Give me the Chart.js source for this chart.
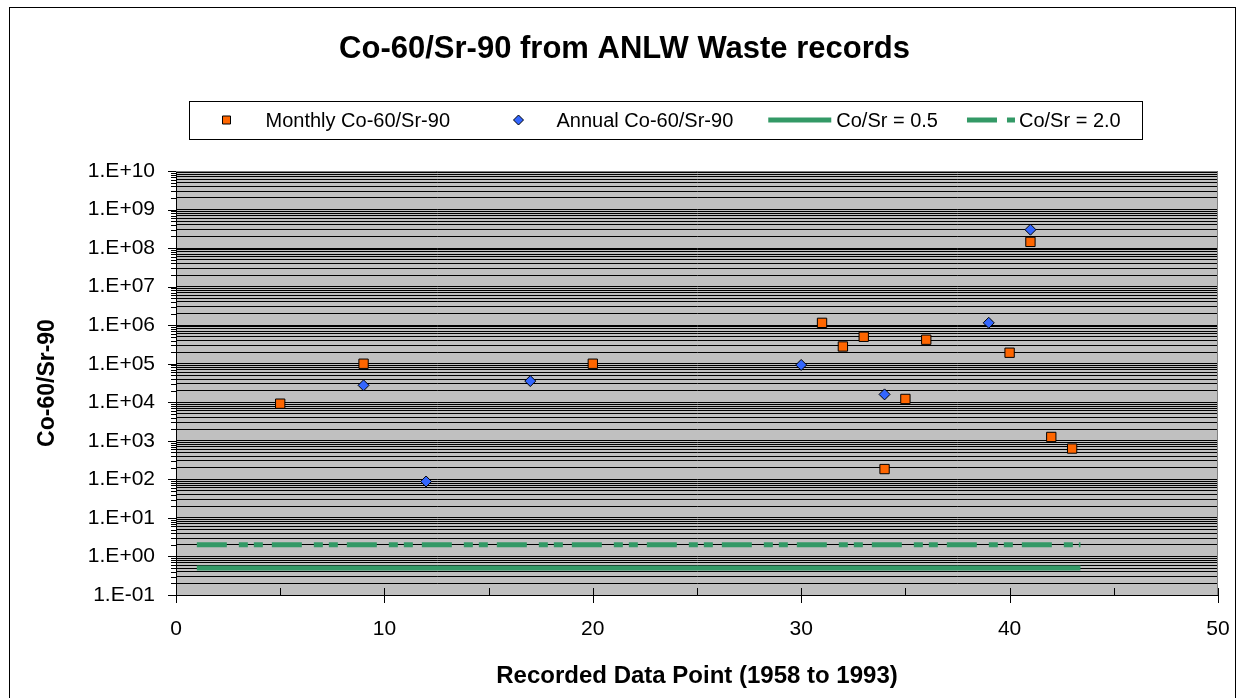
<!DOCTYPE html>
<html>
<head>
<meta charset="utf-8">
<script src="https://cdn.jsdelivr.net/npm/chart.js@4.4.1/dist/chart.umd.min.js"></script>
<style>
html, body { margin: 0; padding: 0; background: #ffffff; }
#wrap { width: 1239px; height: 698px; }
</style>
</head>
<body>
<div id="wrap"><canvas id="c" width="1239" height="698"></canvas></div>
<script>
// ---------------- data ----------------
const chartTitle = 'Co-60/Sr-90 from ANLW Waste records';
const xAxisTitle = 'Recorded Data Point (1958 to 1993)';
const yAxisTitle = 'Co-60/Sr-90';
const seriesLabels = ['Monthly Co-60/Sr-90', 'Annual Co-60/Sr-90', 'Co/Sr = 0.5', 'Co/Sr = 2.0'];

const monthlyX = [5, 9, 20, 31, 32, 33, 34, 35, 36, 40, 41, 42, 43];
const monthlyY = [9.2e3, 1.0e5, 1.0e5, 1.15e6, 2.8e5, 5.0e5, 1.85e2, 1.22e4, 4.2e5, 1.93e5, 1.45e8, 1.26e3, 6.3e2];

const annualX = [9, 12, 17, 30, 34, 39, 41];
const annualY = [2.75e4, 88, 3.55e4, 9.3e4, 1.6e4, 1.15e6, 3.0e8];

const refLineX = [1, 43.4];
const refLowY = [0.5, 0.5];
const refHighY = [2.0, 2.0];

const xTickValues = [0, 10, 20, 30, 40, 50];
const xMinorTicks = [5, 15, 25, 35, 45];
const yDecadeExps = [-1, 0, 1, 2, 3, 4, 5, 6, 7, 8, 9, 10];
const yTickLabels = ['1.E-01', '1.E+00', '1.E+01', '1.E+02', '1.E+03', '1.E+04', '1.E+05', '1.E+06', '1.E+07', '1.E+08', '1.E+09', '1.E+10'];
const yMinorMultipliers = [2, 3, 4, 5, 6, 7, 8, 9];

// ---------------- styles ----------------
const FONT = '"Liberation Sans", Arial, Helvetica, sans-serif';
const ORANGE = '#FF6600';
const BLUE = '#3366FF';
const GREEN = '#339966';
const DASH = [30, 12, 9, 6, 9, 9];
const LEGEND_DASH = [30, 10, 8, 10];

// legend layout (Excel-style legend box)
const LEGEND_Y = 120;
const LEGEND_BOX = { left: 189, top: 101, height: 38, padRight: 21 };
const legendLayout = [
  { gap: 37, sampleLen: 0, textGap: 39 },
  { gap: 68, sampleLen: 0, textGap: 38 },
  { gap: 35, sampleLen: 63, textGap: 5 },
  { gap: 29, sampleLen: 48, textGap: 4 }
];

const decadeValues = yDecadeExps.map(e => Number('1e' + e));
const yAllTicks = [];
yDecadeExps.forEach((e, i) => {
  yAllTicks.push(decadeValues[i]);
  if (i < yDecadeExps.length - 1) {
    yMinorMultipliers.forEach(m => yAllTicks.push(Number(m + 'e' + e)));
  }
});

const toPts = (xs, ys) => xs.map((x, i) => ({ x: x, y: ys[i] }));

// ---------------- plugins ----------------
const decorPlugin = {
  id: 'decor',
  beforeDraw(chart) {
    const { ctx, chartArea: a } = chart;
    ctx.save();
    ctx.fillStyle = '#ffffff';
    ctx.fillRect(0, 0, chart.width, chart.height);
    ctx.fillStyle = '#C0C0C0';
    ctx.fillRect(a.left, a.top, a.right - a.left, a.bottom - a.top);
    ctx.restore();
  },
  beforeDatasetsDraw(chart) {
    const { ctx, chartArea: a, scales } = chart;
    ctx.save();
    ctx.strokeStyle = '#808080';
    ctx.lineWidth = 1;
    ctx.beginPath();
    ctx.moveTo(a.left, Math.round(a.top) + 0.5);
    ctx.lineTo(Math.round(a.right) - 0.5, Math.round(a.top) + 0.5);
    ctx.lineTo(Math.round(a.right) - 0.5, a.bottom);
    ctx.stroke();
    const ys = scales.y;
    ctx.strokeStyle = '#000000';
    ctx.beginPath();
    yAllTicks.forEach(v => {
      const py = Math.round(ys.getPixelForValue(v)) + 0.5;
      const len = decadeValues.includes(v) ? 8 : 5;
      ctx.moveTo(a.left - len, py);
      ctx.lineTo(a.left, py);
    });
    const xs = scales.x;
    const by = Math.round(a.bottom);
    xTickValues.forEach(v => {
      const px = Math.round(xs.getPixelForValue(v)) + 0.5;
      ctx.moveTo(px, by - 7);
      ctx.lineTo(px, by + 8);
    });
    xMinorTicks.forEach(v => {
      const px = Math.round(xs.getPixelForValue(v)) + 0.5;
      ctx.moveTo(px, by - 7);
      ctx.lineTo(px, by);
    });
    ctx.stroke();
    ctx.restore();
  },
  afterDraw(chart) {
    const ctx = chart.ctx;
    ctx.save();
    ctx.strokeStyle = '#000000';
    ctx.lineWidth = 1;
    ctx.strokeRect(9.5, 7.5, 1226, 700);

    // legend
    const cy = LEGEND_Y;
    ctx.font = '20px ' + FONT;
    ctx.textBaseline = 'middle';
    ctx.textAlign = 'left';
    const dsets = chart.data.datasets;
    let cursor = LEGEND_BOX.left;
    dsets.forEach((ds, i) => {
      const L = legendLayout[i];
      let textX;
      if (ds.showLine) {
        const x0 = cursor + L.gap;
        const x1 = x0 + L.sampleLen;
        ctx.save();
        ctx.strokeStyle = ds.borderColor;
        ctx.lineWidth = ds.borderWidth;
        ctx.setLineDash(ds.borderDash ? LEGEND_DASH : []);
        ctx.beginPath();
        ctx.moveTo(x0, cy);
        ctx.lineTo(x1, cy);
        ctx.stroke();
        ctx.restore();
        textX = x1 + L.textGap;
      } else {
        const cx = Math.round(cursor + L.gap) + 0.5;
        ctx.save();
        ctx.fillStyle = ds.backgroundColor;
        ctx.strokeStyle = ds.borderColor;
        ctx.lineWidth = 1;
        ctx.beginPath();
        if (ds.pointStyle === 'rect') {
          ctx.rect(cx - 4, cy - 4, 8, 8);
        } else {
          ctx.moveTo(cx, cy - 5); ctx.lineTo(cx + 5, cy); ctx.lineTo(cx, cy + 5); ctx.lineTo(cx - 5, cy); ctx.closePath();
        }
        ctx.fill();
        ctx.stroke();
        ctx.restore();
        textX = cx + L.textGap;
      }
      ctx.fillStyle = '#000000';
      ctx.fillText(ds.label, textX, cy + 1);
      cursor = textX + ctx.measureText(ds.label).width;
    });
    const boxRight = cursor + LEGEND_BOX.padRight;
    ctx.strokeStyle = '#000000';
    ctx.strokeRect(LEGEND_BOX.left + 0.5, LEGEND_BOX.top + 0.5, Math.round(boxRight - LEGEND_BOX.left), LEGEND_BOX.height);
    ctx.restore();
  }
};

// ---------------- chart ----------------
new Chart(document.getElementById('c'), {
  type: 'scatter',
  data: {
    datasets: [
      {
        label: seriesLabels[0],
        data: toPts(monthlyX, monthlyY),
        pointStyle: 'rect',
        pointRadius: 6.6,
        pointHoverRadius: 6.6,
        backgroundColor: ORANGE,
        borderColor: '#000000',
        borderWidth: 1
      },
      {
        label: seriesLabels[1],
        data: toPts(annualX, annualY),
        pointStyle: 'rectRot',
        pointRadius: 5.5,
        pointHoverRadius: 5.5,
        backgroundColor: BLUE,
        borderColor: '#000000',
        borderWidth: 1
      },
      {
        label: seriesLabels[2],
        data: toPts(refLineX, refLowY),
        showLine: true,
        pointRadius: 0,
        borderColor: GREEN,
        backgroundColor: GREEN,
        borderWidth: 5,
        borderCapStyle: 'butt'
      },
      {
        label: seriesLabels[3],
        data: toPts(refLineX, refHighY),
        showLine: true,
        pointRadius: 0,
        borderColor: GREEN,
        backgroundColor: GREEN,
        borderWidth: 5,
        borderDash: DASH,
        borderCapStyle: 'butt'
      }
    ]
  },
  options: {
    responsive: false,
    animation: false,
    devicePixelRatio: 1,
    layout: { padding: { left: 31, right: 21, top: 0, bottom: 0 } },
    plugins: {
      legend: { display: false },
      tooltip: { enabled: false },
      title: {
        display: true,
        text: chartTitle,
        color: '#000000',
        font: { family: FONT, size: 31, weight: 'bold' },
        padding: { top: 30.4, bottom: 103.4 }
      }
    },
    scales: {
      x: {
        type: 'linear',
        min: 0,
        max: 50,
        afterBuildTicks: s => { s.ticks = xTickValues.map(v => ({ value: v })); },
        afterFit: s => { s.height = 103; s.paddingLeft = 0; s.paddingRight = 0; },
        grid: { display: false, drawTicks: false },
        border: { display: true, color: '#000000', width: 1 },
        ticks: {
          color: '#000000',
          font: { family: FONT, size: 21 },
          padding: 21.4,
          maxRotation: 0,
          autoSkip: false
        },
        title: {
          display: true,
          text: xAxisTitle,
          color: '#000000',
          font: { family: FONT, size: 24, weight: 'bold' },
          padding: { top: 0, bottom: 7 }
        }
      },
      y: {
        type: 'logarithmic',
        min: 0.1,
        max: 1e10,
        afterBuildTicks: s => { s.ticks = yAllTicks.map(v => ({ value: v })); },
        afterFit: s => { s.width = 145; s.paddingTop = 0; s.paddingBottom = 0; },
        grid: {
          display: true,
          drawOnChartArea: true,
          drawTicks: false,
          color: '#000000',
          lineWidth: 1
        },
        border: { display: true, color: '#000000', width: 1 },
        ticks: {
          autoSkip: false,
          color: '#000000',
          font: { family: FONT, size: 21 },
          padding: 21,
          callback: v => {
            const i = decadeValues.indexOf(v);
            return i >= 0 ? yTickLabels[i] : '';
          }
        },
        title: {
          display: true,
          text: yAxisTitle,
          color: '#000000',
          font: { family: FONT, size: 23, weight: 'bold' },
          padding: { top: 3, bottom: 0 }
        }
      }
    }
  },
  plugins: [decorPlugin]
});
</script>
</body>
</html>
